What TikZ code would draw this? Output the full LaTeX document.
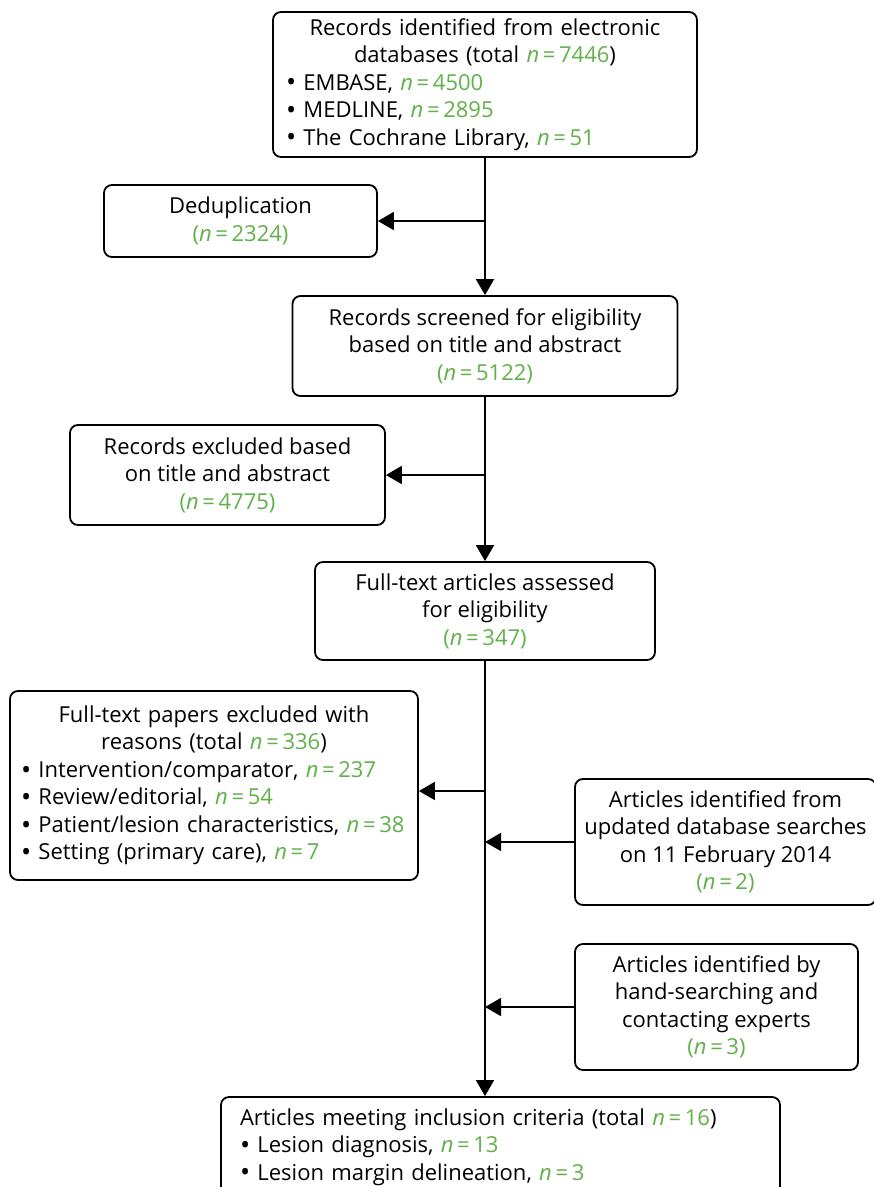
\documentclass[tikz,border=0pt]{standalone}
\usepackage{fontspec}
\setmainfont{Open Sans}
\usetikzlibrary{arrows.meta}
\definecolor{ngreen}{RGB}{96,177,73}
\newcommand{\nval}[1]{{\color{ngreen}\textit{n}\,=\,#1}}
\newcommand{\nparen}[1]{{\color{ngreen}(\textit{n}\,=\,#1)}}
\newcommand{\bul}{{\fontsize{27}{27.5}\selectfont\raisebox{-1.6pt}{\textbullet}}\ }
\begin{document}
\begin{tikzpicture}[x=1pt,y=-1pt,
  box/.style={draw, line width=1.8pt, rounded corners=8pt, inner ysep=0pt,
    font=\fontsize{22}{27.5}\selectfont},
  cbox/.style={box, align=center},
  arr/.style={line width=1.8pt, -{Triangle[length=16pt,width=18pt]}},
  ]
\useasboundingbox (0,0) rectangle (874,1187);
\clip (0,0) rectangle (874,1187);
\fill[white] (0,0) rectangle (874,1187);

\node[box, minimum width=424pt, minimum height=145pt, inner xsep=13pt, text width=398pt] (a) at (485,84.5)
 {{\centering Records identified from electronic\\databases (total \nval{7446})\par}
  \raggedright\bul EMBASE, \nval{4500}\\
  \bul MEDLINE, \nval{2895}\\
  \bul The Cochrane Library, \nval{51}\par};

\node[cbox, minimum width=273pt, minimum height=72pt] (b) at (240.5,221)
 {Deduplication\\\nparen{2324}};

\node[cbox, minimum width=385pt, minimum height=100pt] (c) at (485,346)
 {Records screened for eligibility\\based on title and abstract\\\nparen{5122}};

\node[cbox, minimum width=315pt, minimum height=100pt] (d) at (227.5,475)
 {Records excluded based\\on title and abstract\\\nparen{4775}};

\node[cbox, minimum width=340pt, minimum height=98pt] (e) at (485,611)
 {Full-text articles assessed\\for eligibility\\\nparen{347}};

\node[box, minimum width=408pt, minimum height=189pt, inner xsep=11pt, text width=386pt] (f) at (214,785.5)
 {{\centering Full-text papers excluded with\\reasons (total \nval{336})\par}
  \raggedright\bul Intervention/comparator, \nval{237}\\
  \bul Review/editorial, \nval{54}\\
  \bul Patient/lesion characteristics, \nval{38}\\
  \bul Setting (primary care), \nval{7}\par};

\node[cbox, minimum width=301pt, minimum height=126pt] (g) at (725.5,842)
 {Articles identified from\\updated database searches\\on 11 February 2014\\\nparen{2}};

\node[cbox, minimum width=283pt, minimum height=126pt] (h) at (716.5,1007)
 {Articles identified by\\hand-searching and\\contacting experts\\\nparen{3}};

\node[box, minimum width=559pt, minimum height=100pt, inner xsep=19pt, text width=521pt] (i) at (500.5,1147)
 {\raggedright Articles meeting inclusion criteria (total \nval{16})\\
  \bul Lesion diagnosis, \nval{13}\\
  \bul Lesion margin delineation, \nval{3}\par};

\draw[arr] (a.south) -- (c.north);
\draw[arr] (a.south |- b.east) -- (b.east);
\draw[arr] (c.south) -- (e.north);
\draw[arr] (c.south |- d.east) -- (d.east);
\draw[arr] (e.south) -- (e.south |- i.north);
\draw[arr] (e.south |- 0,791) -- (f.east |- 0,791);
\draw[arr] (g.west) -- (g.west -| e.south);
\draw[arr] (h.west) -- (h.west -| e.south);
\end{tikzpicture}
\end{document}
